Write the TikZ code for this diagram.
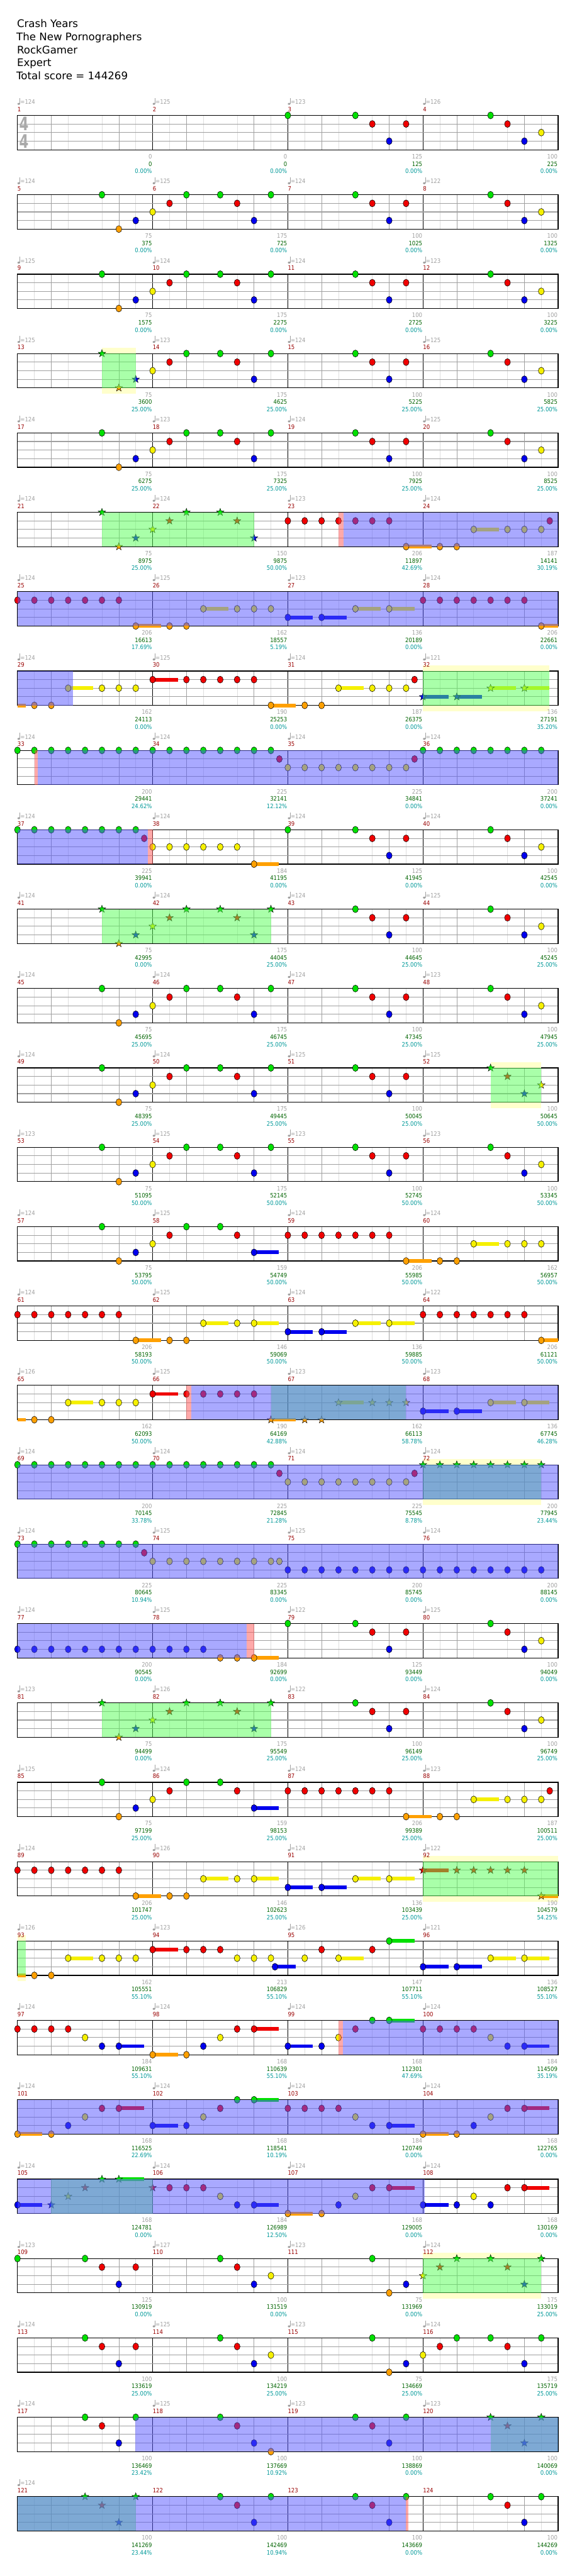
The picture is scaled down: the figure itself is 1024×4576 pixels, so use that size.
\documentclass[tikz,border=0pt]{standalone}
\usepackage{fontspec}
\setmainfont{DejaVu Sans}
\newfontfamily\labelfamily[FakeStretch=0.88]{DejaVu Sans}
\newfontfamily\titlefamily{DejaVu Sans}
\newfontfamily\sigfamily[FakeStretch=0.72]{DejaVu Sans}
\newcommand\labelfont{\labelfamily\fontsize{10.8}{11}\selectfont}
\newcommand\titlefont{\titlefamily\fontsize{18.6}{19}\selectfont}
\newcommand\sigfont{\sigfamily\bfseries\fontsize{33}{33}\selectfont}

\definecolor{NoteGreen}{RGB}{0,224,0}
\definecolor{NoteRed}{RGB}{240,0,0}
\definecolor{NoteYellow}{RGB}{245,240,0}
\definecolor{NoteBlue}{RGB}{0,0,238}
\definecolor{NoteOrange}{RGB}{255,160,0}
\colorlet{lane0}{NoteGreen}
\colorlet{lane1}{NoteRed}
\colorlet{lane2}{NoteYellow}
\colorlet{lane3}{NoteBlue}
\colorlet{lane4}{NoteOrange}
\definecolor{OdBlue}{RGB}{85,85,255}
\definecolor{SpGreen}{RGB}{85,255,85}
\definecolor{PkRed}{RGB}{255,85,85}
\definecolor{SpYellow}{RGB}{255,255,204}
\definecolor{GridLight}{RGB}{222,222,222}
\definecolor{GridMid}{RGB}{160,160,160}
\definecolor{TempoGray}{RGB}{160,160,160}
\definecolor{BarRed}{RGB}{153,0,0}
\definecolor{PtsGray}{RGB}{160,160,160}
\definecolor{PtsGreen}{RGB}{0,100,0}
\definecolor{PctTeal}{RGB}{0,153,153}
\definecolor{SigGray}{RGB}{170,170,170}

\tikzset{
  notehead/.style={draw=black, line width=0.6pt},
  odfill/.style={fill=OdBlue, fill opacity=0.5},
  spfill/.style={fill=SpGreen, fill opacity=0.5},
  pkfill/.style={fill=PkRed, fill opacity=0.5},
  sxfill/.style={fill=SpYellow},
  gridlight/.style={draw=GridLight, line width=0.7pt},
  gridbeat/.style={draw=GridMid, line width=0.8pt},
  gridbar/.style={draw=black, line width=0.8pt},
  lanegrid/.style={draw=GridMid, line width=1.2pt},
  staffframe/.style={draw=black, line width=1.3pt},
  tempotext/.style={anchor=base west, inner sep=0pt, text=TempoGray, font=\labelfont},
  barno/.style={anchor=base west, inner sep=0pt, text=BarRed, font=\labelfont},
  basepts/.style={anchor=base east, inner sep=0pt, text=PtsGray, font=\labelfont},
  totalpts/.style={anchor=base east, inner sep=0pt, text=PtsGreen, font=\labelfont},
  pctpts/.style={anchor=base east, inner sep=0pt, text=PctTeal, font=\labelfont},
  titleline/.style={anchor=base west, inner sep=0pt, font=\titlefont},
  sigdigit/.style={anchor=base west, inner sep=0pt, text=SigGray, font=\sigfont},
  pics/starnote/.style={code={
    \filldraw[fill=#1, draw=black, line width=0.5pt] (90:7pt) -- (126:2.8pt) -- (162:7pt)
      -- (198:2.8pt) -- (234:7pt) -- (270:2.8pt) -- (306:7pt) -- (342:2.8pt)
      -- (18:7pt) -- (54:2.8pt) -- cycle;}}
}

% row #1, beat/lane lists
\newcommand\nts[2]{\foreach \bt/\la in {#2}{%
  \filldraw[notehead, fill=lane\la] ({31+60*\bt},{205+141*#1+15.25*\la}) ellipse [x radius=5.2pt, y radius=6.2pt];}}
\newcommand\run[5]{\foreach \bt in {#3,#4,...,#5}{%
  \filldraw[notehead, fill=lane#2] ({31+60*\bt},{205+141*#1+15.25*#2}) ellipse [x radius=5.2pt, y radius=6.2pt];}}
\newcommand\sts[2]{\foreach \bt/\la in {#2}{%
  \pic at ({31+60*\bt},{205+141*#1+15.25*\la}) {starnote=lane\la};}}
\newcommand\sus[2]{\foreach \bt/\la/\en in {#2}{%
  \fill[lane\la] ({31+60*\bt},{205+141*#1+15.25*\la-3.3}) rectangle ({31+60*\en},{205+141*#1+15.25*\la+3.3});}}
\newcommand\odr[3]{\fill[odfill] ({31+60*#2},{205+141*#1}) rectangle ({31+60*#3},{266+141*#1});}
\newcommand\spr[3]{\fill[spfill] ({31+60*#2},{205+141*#1}) rectangle ({31+60*#3},{266+141*#1});}
\newcommand\pkr[3]{\fill[pkfill] ({31+60*#2},{205+141*#1}) rectangle ({31+60*#3},{266+141*#1});}
\newcommand\spx[3]{%
  \fill[sxfill] ({31+60*#2},{195+141*#1}) rectangle ({31+60*#3},{205+141*#1});
  \fill[sxfill] ({31+60*#2},{266+141*#1}) rectangle ({31+60*#3},{276+141*#1});}
\newcommand\riffA[1]{\nts{#1}{2.5/0,3/4,3.5/3,4/2,4.5/1,5/0,6/0,6.5/1,7/3,7.5/0}}
\newcommand\riffB[1]{\nts{#1}{10/0,10.5/1,11/3,11.5/1,14/0,14.5/1,15/3,15.5/2}}
\newcommand\tempo[3]{%
  \fill[TempoGray] ({33.3+240*#2},{184.5+141*#1}) ellipse [x radius=2.3pt, y radius=1.8pt];
  \draw[TempoGray, line width=0.6pt] ({35.4+240*#2},{184.5+141*#1}) -- ({35.4+240*#2},{174+141*#1});
  \node[tempotext] (tp-#1-#2) at ({36+240*#2},{185+141*#1}) {=#3};}

\begin{document}
\begin{tikzpicture}[x=1pt, y=-1pt]
\useasboundingbox (0,0) rectangle (1024,4576);
\fill[white] (0,0) rectangle (1024,4576);

% heading
\node[titleline] (song) at (30,49) {Crash Years};
\node[titleline] (band) at (29,72) {The New Pornographers};
\node[titleline] (charter) at (30,95) {RockGamer};
\node[titleline] (level) at (30,118) {Expert};
\node[titleline] (total) at (29,141) {Total score = 144269};

% staves
\foreach \k in {0,...,30}{
  \pgfmathsetmacro\T{205+141*\k}
  \fill[white] (31,\T) rectangle (991,\T+61);
  \foreach \i in {1,3,...,31} \draw[gridlight] ({31+30*\i},\T) -- ++(0,61);
  \foreach \i in {2,6,...,30} \draw[gridbeat] ({31+30*\i},\T) -- ++(0,61);
  \foreach \i in {8,16,24} \draw[gridbar] ({31+30*\i},\T) -- ++(0,61);
  \foreach \la in {1,2,3} \draw[lanegrid] (31,{\T+15.25*\la}) -- (991,{\T+15.25*\la});
  \draw[staffframe] (31,\T) rectangle (991,\T+61);
}
\node[sigdigit] (sigtop) at (34,232) {4};
\node[sigdigit] (sigbot) at (34,263) {4};

% 1-4
\nts{0}{8/0}\riffB{0}
% 5-12
\riffA{1}\riffB{1}
\riffA{2}\riffB{2}
% 13-16
\spx{3}{2.5}{3.5}
\sts{3}{2.5/0,3/4,3.5/3}
\nts{3}{4/2,4.5/1,5/0,6/0,6.5/1,7/3,7.5/0}\riffB{3}
\spr{3}{2.5}{3.5}
% 17-20
\riffA{4}\riffB{4}
% 21-24
\sts{5}{2.5/0,3/4,3.5/3,4/2,4.5/1,5/0,6/0,6.5/1,7/3}
\sus{5}{11.5/4/12.25,13.5/2/14.25}
\nts{5}{8/1,8.5/1,9/1,9.5/1,10/1,10.5/1,11/1,11.5/4,12.5/4,13/4,13.5/2,14.5/2,15/2,15.5/2,15.75/1}
\spr{5}{2.5}{7}
\pkr{5}{9.5}{9.65}
\odr{5}{9.65}{16}
% 25-28
\sus{6}{3.5/4/4.25,5.5/2/6.25,8/3/8.73,9/3/9.74,10/2/10.75,11/2/11.75,15.5/4/16}
\run{6}{1}{0}{0.5}{3}
\nts{6}{3.5/4,4.5/4,5/4,5.5/2,6.5/2,7/2,7.5/2,8/3,9/3,10/2,11/2,15.5/4}
\run{6}{1}{12}{12.5}{15}
\odr{6}{0}{16}
% 29-32
\spx{7}{12}{15.73}
\sus{7}{0/4/0.24,1.5/2/2.23,4/1/4.75,7.5/4/8.24,9.5/2/10.24,12/3/12.75,13/3/13.75,14/2/14.75,15/2/15.73}
\nts{7}{0.5/4,1/4,1.5/2,2.5/2,3/2,3.5/2,4/1,5/1,5.5/1,6/1,6.5/1,7/1,7.5/4,8.5/4,9/4,9.5/2,10.5/2,11/2,11.5/2,11.75/1}
\sts{7}{12/3,13/3,14/2,15/2}
\spr{7}{12}{15.73}
\odr{7}{0}{1.64}
% 33-36
\run{8}{0}{0}{0.5}{7.5}
\nts{8}{7.75/1,11.75/1}
\run{8}{2}{8}{8.5}{11.5}
\run{8}{0}{12}{12.5}{15.5}
\pkr{8}{0.5}{0.6}
\odr{8}{0.6}{16}
% 37-40
\run{9}{0}{0}{0.5}{3.5}
\sus{9}{7/4/7.74}
\nts{9}{3.75/1,4/2,4.5/2,5/2,5.5/2,6/2,6.5/2,7/4,8/0}\riffB{9}
\odr{9}{0}{3.86}
\pkr{9}{3.86}{4}
% 41-44
\sts{10}{2.5/0,3/4,3.5/3,4/2,4.5/1,5/0,6/0,6.5/1,7/3,7.5/0}\riffB{10}
\spr{10}{2.5}{7.5}
% 45-48
\riffA{11}\riffB{11}
% 49-52
\spx{12}{14}{15.5}
\riffA{12}\nts{12}{10/0,10.5/1,11/3,11.5/1}
\sts{12}{14/0,14.5/1,15/3,15.5/2}
\spr{12}{14}{15.5}
% 53-56
\riffA{13}\riffB{13}
% 57-60
\sus{14}{7/3/7.74,11.5/4/12.25,13.5/2/14.25}
\nts{14}{2.5/0,3/4,3.5/3,4/2,4.5/1,5/0,6/0,6.5/1,7/3,11.5/4,12.5/4,13/4,13.5/2,14.5/2,15/2,15.5/2}
\run{14}{1}{8}{8.5}{11}
% 61-64
\run{15}{1}{0}{0.5}{3}
\sus{15}{3.5/4/4.25,5.5/2/6.25,7/2/7.74,8/3/8.73,9/3/9.74,10/2/10.75,11/2/11.75,15.5/4/16}
\nts{15}{3.5/4,4.5/4,5/4,5.5/2,6.5/2,7/2,8/3,9/3,10/2,11/2,15.5/4}
\run{15}{1}{12}{12.5}{15}
% 65-68
\sus{16}{0/4/0.24,1.5/2/2.23,4/1/4.75,7.5/4/8.24,9.5/2/10.24,12/3/12.75,13/3/13.75,14/2/14.75,15/2/15.73}
\nts{16}{0.5/4,1/4,1.5/2,2.5/2,3/2,3.5/2,4/1,5/1,5.5/1,6/1,6.5/1,7/1,12/3,13/3,14/2,15/2}
\sts{16}{7.5/4,8.5/4,9/4,9.5/2,10.5/2,11/2,11.5/2}
\spr{16}{7.5}{11.5}
\pkr{16}{5}{5.15}
\odr{16}{5.15}{16}
% 69-72
\spx{17}{12}{15.5}
\run{17}{0}{0}{0.5}{7.5}
\nts{17}{7.75/1,11.75/1}
\run{17}{2}{8}{8.5}{11.5}
\sts{17}{12/0,12.5/0,13/0,13.5/0,14/0,14.5/0,15/0,15.5/0}
\spr{17}{12}{15.5}
\odr{17}{0}{16}
% 73-76
\run{18}{0}{0}{0.5}{3.5}
\nts{18}{3.75/1,7.75/2}
\run{18}{2}{4}{4.5}{7.5}
\run{18}{3}{8}{8.5}{15.5}
\odr{18}{0}{16}
% 77-80
\run{19}{3}{0}{0.5}{5.5}
\sus{19}{7/4/7.74}
\nts{19}{6/4,6.5/4,7/4,8/0}\riffB{19}
\odr{19}{0}{6.79}
\pkr{19}{6.79}{7}
% 81-84
\sts{20}{2.5/0,3/4,3.5/3,4/2,4.5/1,5/0,6/0,6.5/1,7/3,7.5/0}\riffB{20}
\spr{20}{2.5}{7.5}
% 85-88
\sus{21}{7/3/7.74,11.5/4/12.25,13.5/2/14.25}
\nts{21}{2.5/0,3/4,3.5/3,4/2,4.5/1,5/0,6/0,6.5/1,7/3,11.5/4,12.5/4,13/4,13.5/2,14.5/2,15/2,15.5/2,15.75/1}
\run{21}{1}{8}{8.5}{11}
% 89-92
\spx{22}{12}{16}
\run{22}{1}{0}{0.5}{3}
\sus{22}{3.5/4/4.25,5.5/2/6.25,7/2/7.74,8/3/8.73,9/3/9.74,10/2/10.75,11/2/11.75,12/1/12.75,15.5/4/16}
\nts{22}{3.5/4,4.5/4,5/4,5.5/2,6.5/2,7/2,8/3,9/3,10/2,11/2}
\sts{22}{12/1,13/1,13.5/1,14/1,14.5/1,15/1,15.5/4}
\spr{22}{12}{16}
% 93-96
\spx{23}{0}{0.24}
\sus{23}{0/4/0.24,1.5/2/2.23,4/1/4.75,7.62/3/8.24,9.5/2/10.24,11/0/11.75,12/3/12.75,13/3/13.75,14/2/14.75,15/2/15.73}
\nts{23}{0.5/4,1/4,1.5/2,2.5/2,3/2,3.5/2,4/1,5/1,5.5/1,6/1,6.5/2,7/2,7.5/2,7.62/3,8.5/2,9/1,9.5/2,10.5/1,11/0,12/3,13/3,14/2,15/2}
\spr{23}{0}{0.24}
% 97-100
\sus{24}{3/3/3.74,4/4/4.75,7/1/7.74,8/3/8.73,11/0/11.75,15/3/15.73}
\nts{24}{0/1,0.5/1,1/1,1.5/1,2/2,2.5/3,3/3,4/4,5/4,5.5/3,6/2,6.5/1,7/1,8/3,9/3,9.5/2,10/1,10.5/0,11/0,12/1,12.5/1,13/1,13.5/1,14/2,14.5/3,15/3}
\pkr{24}{9.5}{9.63}
\odr{24}{9.63}{16}
% 101-104
\sus{25}{0/4/0.74,3/1/3.74,4/3/4.75,7/0/7.74,11/3/11.75,12/4/12.75,15/1/15.73}
\nts{25}{0/4,1/4,1.5/3,2/2,2.5/1,3/1,4/3,5/3,5.5/2,6/1,6.5/0,7/0,8/1,8.5/1,9/1,9.5/1,10/2,10.5/3,11/3,12/4,13/4,13.5/3,14/2,14.5/1,15/1}
\odr{25}{0}{16}
% 105-108
\sus{26}{0/3/0.74,3/0/3.74,7/3/7.74,8/4/8.74,11/1/11.75,12/3/12.75,15/1/15.73}
\nts{26}{0/3,4.5/1,5/1,5.5/1,6/2,6.5/3,7/3,8/4,9/4,9.5/3,10/2,10.5/1,11/1,12/3,13/3,13.5/2,14/3,14.5/1,15/1}
\sts{26}{1/3,1.5/2,2/1,2.5/0,3/0,4/1}
\spr{26}{1}{4}
\odr{26}{0}{12.05}
% 109-112
\spx{27}{12}{15.5}
\nts{27}{0/0,2/0,2.5/1,3/3,3.5/1,6/0,6.5/1,7/3,7.5/2,10.5/0,11/4,11.5/3}
\sts{27}{12/2,12.5/1,13/0,14/0,14.5/1,15/3,15.5/0}
\spr{27}{12}{15.5}
% 113-116
\nts{28}{2/0,2.5/1,3/3,3.5/1,6/0,6.5/1,7/3,7.5/2,10.5/0,11/4,11.5/3,12/2,12.5/1,13/0,14/0,14.5/1,15/3,15.5/0}
% 117-120
\nts{29}{2/0,2.5/1,3/3,3.5/0,6/0,6.5/1,7/3,7.5/4,10/0,10.5/1,11/3,11.5/0}
\sts{29}{14/0,14.5/1,15/3,15.5/0}
\spr{29}{14}{16}
\odr{29}{3.49}{16}
% 121-124
\sts{30}{2/0,2.5/1,3/3,3.5/0}
\nts{30}{6/0,6.5/1,7/3,7.5/0,10/0,10.5/1,11/3,11.5/0,14/0,14.5/1,15/3,15.5/0}
\spr{30}{0}{3.5}
\odr{30}{0}{11.5}
\pkr{30}{11.5}{11.56}

% tempo marks
\foreach \k/\ta/\tb/\tc/\td in {0/124/125/123/126,1/124/125/124/122,2/125/124/124/123,
  3/125/123/124/125,4/124/123/124/125,5/124/124/123/124,6/124/125/123/124,7/124/125/124/121,
  8/124/124/124/124,9/124/124/124/124,10/124/124/124/125,11/124/124/124/123,12/124/124/125/125,
  13/123/125/123/123,14/124/125/124/124,15/124/125/124/122,16/126/125/123/123,17/124/124/124/124,
  18/124/125/125/124,19/124/125/122/125,20/123/126/122/124,21/125/124/124/123,22/124/126/124/122,
  23/126/123/126/121,24/124/124/124/124,25/124/124/124/124,26/124/124/124/124,27/123/127/123/124,
  28/124/125/123/124,29/124/125/123/123}{
  \tempo{\k}{0}{\ta}\tempo{\k}{1}{\tb}\tempo{\k}{2}{\tc}\tempo{\k}{3}{\td}
}
\tempo{30}{0}{124}

% bar numbers
\foreach \k in {0,...,30}{
  \foreach \col in {0,...,3}{
    \pgfmathtruncatemacro\m{4*\k+\col+1}
    \node[barno] (mn-\m) at ({31+240*\col},{198+141*\k}) {\m};
  }
}

% scores under each bar
\foreach \k/\ga/\za/\qa/\gb/\zb/\qb/\gc/\zc/\qc/\gd/\zd/\qd in {
  0/0/0/0.00/0/0/0.00/125/125/0.00/100/225/0.00,
  1/75/375/0.00/175/725/0.00/100/1025/0.00/100/1325/0.00,
  2/75/1575/0.00/175/2275/0.00/100/2725/0.00/100/3225/0.00,
  3/75/3600/25.00/175/4625/25.00/100/5225/25.00/100/5825/25.00,
  4/75/6275/25.00/175/7325/25.00/100/7925/25.00/100/8525/25.00,
  5/75/8975/25.00/150/9875/50.00/206/11897/42.69/187/14141/30.19,
  6/206/16613/17.69/162/18557/5.19/136/20189/0.00/206/22661/0.00,
  7/162/24113/0.00/190/25253/0.00/187/26375/0.00/136/27191/35.20,
  8/200/29441/24.62/225/32141/12.12/225/34841/0.00/200/37241/0.00,
  9/225/39941/0.00/184/41195/0.00/125/41945/0.00/100/42545/0.00,
  10/75/42995/0.00/175/44045/25.00/100/44645/25.00/100/45245/25.00,
  11/75/45695/25.00/175/46745/25.00/100/47345/25.00/100/47945/25.00,
  12/75/48395/25.00/175/49445/25.00/100/50045/25.00/100/50645/50.00,
  13/75/51095/50.00/175/52145/50.00/100/52745/50.00/100/53345/50.00,
  14/75/53795/50.00/159/54749/50.00/206/55985/50.00/162/56957/50.00,
  15/206/58193/50.00/146/59069/50.00/136/59885/50.00/206/61121/50.00,
  16/162/62093/50.00/190/64169/42.88/162/66113/58.78/136/67745/46.28,
  17/200/70145/33.78/225/72845/21.28/225/75545/8.78/200/77945/23.44,
  18/225/80645/10.94/225/83345/0.00/200/85745/0.00/200/88145/0.00,
  19/200/90545/0.00/184/92699/0.00/125/93449/0.00/100/94049/0.00,
  20/75/94499/0.00/175/95549/25.00/100/96149/25.00/100/96749/25.00,
  21/75/97199/25.00/159/98153/25.00/206/99389/25.00/187/100511/25.00,
  22/206/101747/25.00/146/102623/25.00/136/103439/25.00/190/104579/54.25,
  23/162/105551/55.10/213/106829/55.10/147/107711/55.10/136/108527/55.10,
  24/184/109631/55.10/168/110639/55.10/168/112301/47.69/184/114509/35.19,
  25/168/116525/22.69/168/118541/10.19/184/120749/0.00/168/122765/0.00,
  26/168/124781/0.00/184/126989/12.50/168/129005/0.00/168/130169/0.00,
  27/125/130919/0.00/100/131519/0.00/75/131969/0.00/175/133019/25.00,
  28/100/133619/25.00/100/134219/25.00/75/134669/25.00/175/135719/25.00,
  29/100/136469/23.42/100/137669/10.92/100/138869/0.00/100/140069/0.00,
  30/100/141269/23.44/100/142469/10.94/100/143669/0.00/100/144269/0.00}{
  \foreach \col/\gp/\zp/\qp in {0/\ga/\za/\qa,1/\gb/\zb/\qb,2/\gc/\zc/\qc,3/\gd/\zd/\qd}{
    \node[basepts] (bp-\k-\col) at ({270+240*\col},{282+141*\k}) {\gp};
    \node[totalpts] (sc-\k-\col) at ({270+240*\col},{295+141*\k}) {\zp};
    \node[pctpts] (pc-\k-\col) at ({270+240*\col},{308+141*\k}) {\qp\%};
  }
}
\end{tikzpicture}
\end{document}
